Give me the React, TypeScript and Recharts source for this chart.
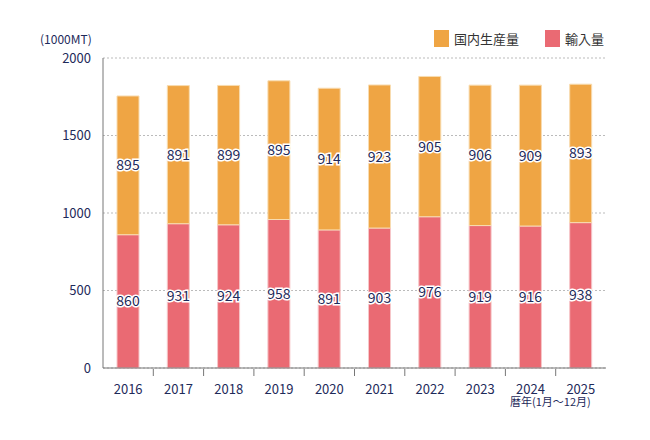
import React from "react";
import { BarChart, Bar, XAxis, YAxis, CartesianGrid, LabelList } from "recharts";

const years = ["2016","2017","2018","2019","2020","2021","2022","2023","2024","2025"];
const imports = [860,931,924,958,891,903,976,919,916,938];
const domestic = [895,891,899,895,914,923,905,906,909,893];
const yTicks = [0,500,1000,1500,2000];

const data = years.map((y, i) => ({ year: y, imp: imports[i], dom: domestic[i] }));

const NAVY = "#1e2a5a";
const ORANGE = "#EFA544";
const RED = "#EA6A73";
const FONT = "'Noto Sans CJK JP', 'Noto Sans', sans-serif";

const BAND = (606 - 103) / years.length;

const XTick = (props: any) => {
  const { x, y, payload, index } = props;
  return (
    <g>
      {index < years.length - 1 && (
        <line x1={x + BAND / 2} x2={x + BAND / 2} y1={y - 7} y2={y} stroke="#777" strokeWidth={1} />
      )}
      <text x={x} y={y + 18} textAnchor="middle" fill={NAVY} fontSize={13} fontFamily={FONT}>
        {payload.value}
      </text>
    </g>
  );
};

const SegLabel = (props: any) => {
  const { x, y, width, height, value } = props;
  return (
    <text
      x={x + width / 2}
      y={y + height / 2 + 5}
      textAnchor="middle"
      fontSize={14}
      fontFamily={FONT}
      fill={NAVY}
      stroke="#fff"
      strokeWidth={3}
      style={{ paintOrder: "stroke" }}
    >
      {value}
    </text>
  );
};

export default function App() {
  return (
    <div style={{ position: "absolute", left: 0, top: 0, width: 650, height: 440, background: "#fff", fontFamily: FONT }}>
      <BarChart width={650} height={440} data={data} margin={{ top: 58, right: 44, bottom: 42, left: 43 }} barSize={22}>
        <CartesianGrid vertical={false} stroke="#bbb" strokeDasharray="2 2" />
        <XAxis dataKey="year" stroke="#777" tickLine={false} tick={<XTick />} interval={0} height={30} />
        <YAxis
          domain={[0, 2000]}
          ticks={yTicks}
          width={60}
          stroke="#777"
          tickLine={false}
          tickMargin={6}
          tick={{ fill: NAVY, fontSize: 13, fontFamily: FONT }}
        />
        <Bar dataKey="imp" stackId="a" fill={RED} stroke="#f6c6c9" strokeWidth={1} isAnimationActive={false}>
          <LabelList dataKey="imp" content={<SegLabel />} />
        </Bar>
        <Bar dataKey="dom" stackId="a" fill={ORANGE} stroke="#f8dcb0" strokeWidth={1} isAnimationActive={false}>
          <LabelList dataKey="dom" content={<SegLabel />} />
        </Bar>
      </BarChart>
      <div style={{ position: "absolute", left: 40, top: 30, fontSize: 12, color: NAVY }}>(1000MT)</div>
      <div style={{ position: "absolute", left: 434, top: 29, display: "flex", alignItems: "center", fontSize: 13, color: "#333" }}>
        <span style={{ width: 15, height: 17, background: ORANGE, display: "inline-block", marginRight: 5 }} />
        <span>国内生産量</span>
        <span style={{ width: 15, height: 17, background: RED, display: "inline-block", marginLeft: 26, marginRight: 5 }} />
        <span>輸入量</span>
      </div>
      <div style={{ position: "absolute", left: 510, top: 393, fontSize: 11, color: NAVY }}>暦年(1月～12月)</div>
    </div>
  );
}
